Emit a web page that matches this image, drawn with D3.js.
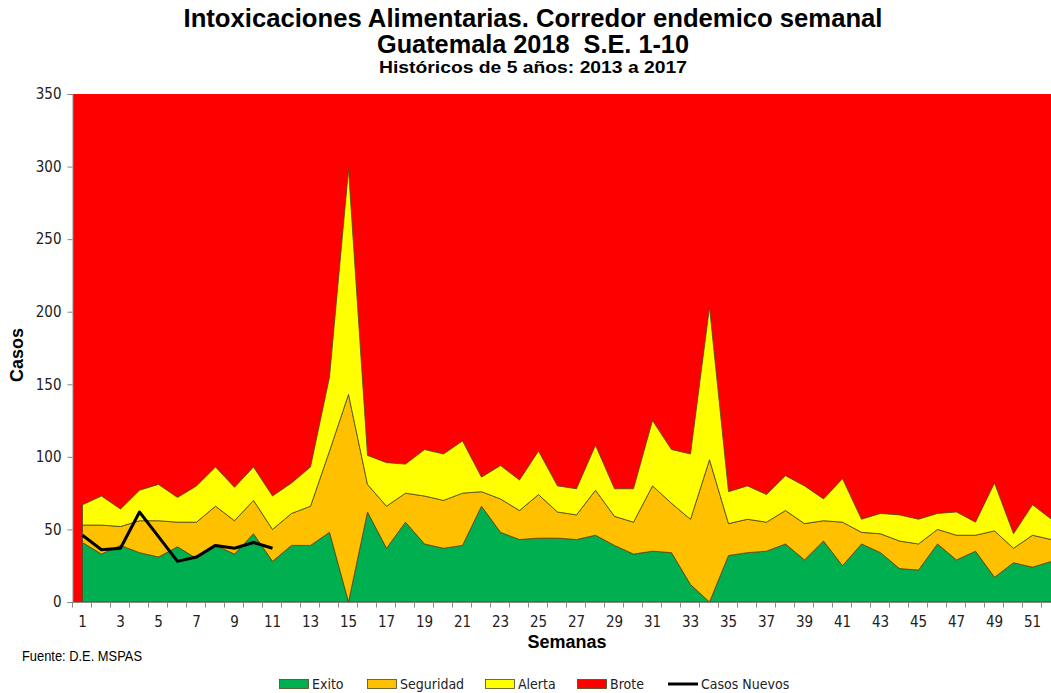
<!DOCTYPE html>
<html>
<head>
<meta charset="utf-8">
<script src="https://cdn.jsdelivr.net/npm/d3@7"></script>
<style>
  body { margin: 0; background: #fff; }
  svg { display: block; }
  .narrow { font-family: "Liberation Sans Narrow", "DejaVu Sans Condensed", "Liberation Sans", Arial, sans-serif; }
</style>
</head>
<body>
<div id="chart"></div>
<script>
// Semanas epidemiologicas
const weeks = d3.range(1, 53);

// Exito (limite inferior), Seguridad y Alerta (incrementos apilados)
const exito = [41, 33, 39, 34, 31, 38, 30, 39, 33, 47, 28, 39, 39, 48, 0, 62, 37, 55, 40, 37, 39, 66, 48, 43, 44, 44,
  43, 46, 39, 33, 35, 34, 12, 0, 32, 34, 35, 40, 29, 42, 25, 40, 34, 23, 22, 40, 29, 35, 17, 27, 24, 28];
const seguridad = [12, 20, 13, 22, 25, 17, 25, 27, 23, 23, 22, 22, 27, 56, 143, 19, 29, 20, 33, 33, 36, 10, 23, 20, 30, 18,
  17, 31, 20, 22, 45, 34, 45, 98, 22, 23, 20, 23, 25, 14, 30, 8, 13, 19, 18, 10, 17, 11, 32, 10, 22, 15];
const alerta = [14, 20, 12, 21, 25, 17, 25, 27, 23, 23, 23, 21, 27, 51, 155, 20, 30, 20, 32, 32, 36, 10, 23, 21, 30, 18,
  18, 31, 19, 23, 45, 37, 45, 105, 22, 23, 19, 24, 26, 15, 30, 9, 14, 18, 17, 11, 16, 9, 33, 10, 21, 14];

// Casos nuevos 2018
const casosNuevos = [46, 36, 37, 62, 45, 28, 31, 39, 37, 41, 37];

const yTicks = [0, 50, 100, 150, 200, 250, 300, 350];
const xLabels = weeks.filter((w) => w % 2 === 1);

const seriesKeys = ['exito', 'seguridad', 'alerta'];
const colors = { exito: '#00B050', seguridad: '#FFC000', alerta: '#FFFF00', brote: '#FF0000' };

const width = 1051;
const height = 693;
const plot = { left: 73, top: 94, bottom: 602 };

const svg = d3.select('#chart')
  .append('svg')
  .attr('width', width)
  .attr('height', height)
  .style('background', '#fff');

// Scales
const x = d3.scaleBand()
  .domain(weeks)
  .range([plot.left, plot.left + 19 * weeks.length]);
const cx = (w) => x(w) + x.bandwidth() / 2;

const y = d3.scaleLinear()
  .domain([0, 350])
  .range([plot.bottom, plot.top]);

// Brote: todo lo que queda sobre la alerta
svg.append('rect')
  .attr('x', plot.left)
  .attr('y', y(350))
  .attr('width', x.range()[1] - plot.left)
  .attr('height', y(0) - y(350))
  .attr('fill', colors.brote);

// Stacked areas
const table = weeks.map((w, i) => ({ week: w, exito: exito[i], seguridad: seguridad[i], alerta: alerta[i] }));
const stacked = d3.stack().keys(seriesKeys)(table);

const area = d3.area()
  .x((d) => cx(d.data.week))
  .y0((d) => y(d[0]))
  .y1((d) => y(d[1]));

svg.append('g')
  .selectAll('path')
  .data(stacked)
  .join('path')
  .attr('d', area)
  .attr('fill', (d) => colors[d.key])
  .attr('stroke', '#4a4a20')
  .attr('stroke-width', 0.8)
  .attr('stroke-linejoin', 'round');

// Casos nuevos line
const line = d3.line()
  .x((d, i) => cx(weeks[i]))
  .y((d) => y(d));

svg.append('path')
  .datum(casosNuevos)
  .attr('d', line)
  .attr('fill', 'none')
  .attr('stroke', '#000')
  .attr('stroke-width', 3)
  .attr('stroke-linejoin', 'round');

// Y axis
const yAxis = svg.append('g')
  .attr('transform', `translate(${plot.left - 0.5},0)`)
  .call(d3.axisLeft(y).tickValues(yTicks).tickSize(5).tickPadding(6));
yAxis.select('.domain').attr('stroke', '#888');
yAxis.selectAll('.tick line').attr('stroke', '#888');
yAxis.selectAll('.tick text')
  .attr('class', 'narrow')
  .style('font-size', '15px')
  .attr('fill', '#222');

// X axis
const xAxisG = svg.append('g').attr('transform', `translate(0,${plot.bottom + 0.5})`);
xAxisG.append('line')
  .attr('x1', plot.left - 0.5)
  .attr('x2', x.range()[1])
  .attr('stroke', '#888');
xAxisG.selectAll('.tk')
  .data(weeks.concat([null]))
  .join('line')
  .attr('x1', (d) => (d === null ? x.range()[1] : x(d)) - 0.5)
  .attr('x2', (d) => (d === null ? x.range()[1] : x(d)) - 0.5)
  .attr('y1', 0)
  .attr('y2', 5)
  .attr('stroke', '#888');
xAxisG.selectAll('.lbl')
  .data(xLabels)
  .join('text')
  .attr('class', 'narrow')
  .attr('x', (d) => cx(d))
  .attr('y', 24)
  .attr('text-anchor', 'middle')
  .style('font-size', '15px')
  .attr('fill', '#222')
  .text((d) => d);

// Titles
const titles = [
  { text: 'Intoxicaciones Alimentarias. Corredor endemico semanal', y: 27, size: 25, len: 699 },
  { text: 'Guatemala 2018  S.E. 1-10', y: 53, size: 25, len: 312 },
  { text: 'Históricos de 5 años: 2013 a 2017', y: 73, size: 17, len: 308 }
];
svg.selectAll('.title')
  .data(titles)
  .join('text')
  .attr('x', (d) => 533 - d.len / 2)
  .attr('y', (d) => d.y)
  .attr('textLength', (d) => d.len)
  .attr('lengthAdjust', 'spacingAndGlyphs')
  .style('white-space', 'pre')
  .style('font-family', '"Liberation Sans", Arial, sans-serif')
  .style('font-weight', 'bold')
  .style('font-size', (d) => d.size + 'px')
  .text((d) => d.text);

// Axis titles
svg.append('text')
  .attr('transform', 'translate(23,355) rotate(-90)')
  .attr('text-anchor', 'middle')
  .style('font-family', '"Liberation Sans", Arial, sans-serif')
  .style('font-weight', 'bold')
  .style('font-size', '18px')
  .text('Casos');

svg.append('text')
  .attr('x', 567)
  .attr('y', 648)
  .attr('text-anchor', 'middle')
  .style('font-family', '"Liberation Sans", Arial, sans-serif')
  .style('font-weight', 'bold')
  .style('font-size', '18px')
  .text('Semanas');

svg.append('text')
  .attr('x', 22)
  .attr('y', 661)
  .attr('textLength', 120)
  .attr('lengthAdjust', 'spacingAndGlyphs')
  .style('font-family', '"Liberation Sans", Arial, sans-serif')
  .style('font-size', '14px')
  .text('Fuente: D.E. MSPAS');

// Legend
const legendItems = [
  { label: 'Exito', color: colors.exito, x: 279, type: 'rect' },
  { label: 'Seguridad', color: colors.seguridad, x: 367, type: 'rect' },
  { label: 'Alerta', color: colors.alerta, x: 485, type: 'rect' },
  { label: 'Brote', color: colors.brote, x: 577, type: 'rect' },
  { label: 'Casos Nuevos', color: '#000', x: 668, type: 'line' }
];
const leg = svg.append('g')
  .selectAll('g')
  .data(legendItems)
  .join('g')
  .attr('transform', (d) => `translate(${d.x},684)`);
leg.filter((d) => d.type === 'rect')
  .append('rect')
  .attr('x', 0.5)
  .attr('y', -4.5)
  .attr('width', 29)
  .attr('height', 9)
  .attr('fill', (d) => d.color)
  .attr('stroke', '#4a4a20')
  .attr('stroke-width', 0.8);
leg.filter((d) => d.type === 'line')
  .append('line')
  .attr('x1', 0)
  .attr('x2', 30)
  .attr('stroke', '#000')
  .attr('stroke-width', 3);
leg.append('text')
  .attr('class', 'narrow')
  .attr('x', 33)
  .attr('y', 5)
  .style('font-size', '14px')
  .attr('fill', '#222')
  .text((d) => d.label);
</script>
</body>
</html>
